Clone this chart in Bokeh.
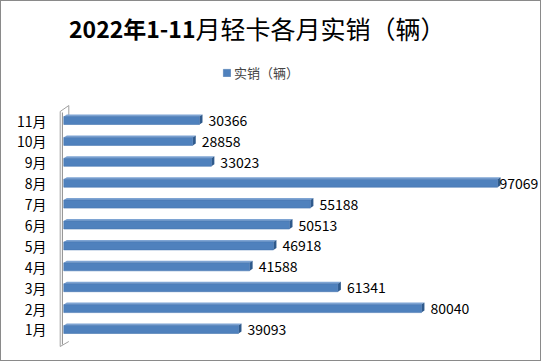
from bokeh.plotting import figure
from bokeh.models import ColumnDataSource, Label, Legend, LegendItem, FixedTicker, Range1d
from bokeh.core.properties import value
from bokeh.embed import file_html
from bokeh.resources import INLINE

# ---- data ----
months = ["1月", "2月", "3月", "4月", "5月", "6月", "7月", "8月", "9月", "10月", "11月"]
sales = [39093, 80040, 61341, 41588, 46918, 50513, 55188, 97069, 33023, 28858, 30366]
series_name = "实销（辆）"
title_bold = "2022年1-11"
title_rest = "月轻卡各月实销（辆）"

FONT = "Noto Sans CJK SC"
W, H = 541, 361
ML, MR, MT, MB = 56, 2, 0, 0
frame_w = W - ML - MR
frame_h = H - MT - MB
x0, x1 = -1410, 106685
y0, y1 = -0.579, 16.694
XPP = (x1 - x0) / frame_w      # data units per pixel (x)
YPP = (y1 - y0) / frame_h      # data units per pixel (y)


def fy(py):
    """data y of a pixel row measured from the top of the frame"""
    return y1 - py * YPP


p = figure(width=W, height=H, output_backend="svg", toolbar_location=None,
           x_range=Range1d(x0, x1), y_range=Range1d(y0, y1),
           min_border_left=ML, min_border_right=MR, min_border_top=MT, min_border_bottom=MB)
p.styles = {"border": "1px solid #8a8a8a"}
p.outline_line_color = None
p.xgrid.visible = False
p.ygrid.visible = False
p.xaxis.visible = False
p.background_fill_color = "white"
p.border_fill_color = "white"

ys = list(range(1, len(months) + 1))
yax = p.yaxis[0]
yax.ticker = FixedTicker(ticks=ys)
yax.major_label_overrides = {y: m for y, m in zip(ys, months)}
yax.axis_line_color = None
yax.major_tick_line_color = None
yax.minor_tick_line_color = None
yax.major_label_standoff = 5
yax.major_label_text_font = FONT
yax.major_label_text_font_size = "14px"
yax.major_label_text_color = "#000000"

# ---- wall ----
wx_a = -3.6 * XPP
wx_b = -1.4 * XPP
wx_c = 5.0 * XPP
p.multi_line(xs=[[wx_a, wx_a, wx_c, wx_c], [wx_a, wx_c]],
             ys=[[fy(345), fy(110), fy(104), fy(114)], [fy(345), fy(340)]],
             line_color="#a0a0a0", line_width=1)
p.segment(x0=[wx_b], y0=[fy(343)], x1=[wx_b], y1=[fy(111)],
          line_color="#8c8c8c", line_width=1)

# ---- 3D bars ----
BH = 8.0 * YPP
DX = 3.0 * XPP
DY = 2.0 * YPP
src = ColumnDataSource(dict(y=ys, right=sales, months=months))
top_xs, top_ys, cap_xs, cap_ys = [], [], [], []
for y, v in zip(ys, sales):
    t = y + BH / 2
    b = y - BH / 2
    top_xs.append([0, v, v + DX, DX])
    top_ys.append([t, t, t + DY, t + DY])
    cap_xs.append([v, v + DX, v + DX, v])
    cap_ys.append([b, b + DY, t + DY, t])
p.patches(top_xs, top_ys, fill_color="#7ea4d3", line_color=None)
p.patches(cap_xs, cap_ys, fill_color="#2f5a8c", line_color=None)
bars = p.hbar(y="y", left=0, right="right", height=BH, source=src,
              fill_color="#4f81bd", line_color="#4676b0", line_width=0.6)

# ---- value labels ----
OFF = 9.0 * XPP
LABEL_MAX = 435.7 * XPP
lab_x = [min(v + OFF, LABEL_MAX) for v in sales]
p.text(x=lab_x, y=ys, text=[str(v) for v in sales], text_font=value(FONT),
       text_font_size="14px", text_baseline="middle", text_align="left",
       text_color="#000000", y_offset=0)

# ---- title (screen units are relative to the frame's bottom-left) ----
split_x = 138
ty = frame_h - 26
p.add_layout(Label(x=split_x, y=ty, x_units="screen", y_units="screen", text=title_bold,
                   text_font=FONT, text_font_size="23px", text_font_style="bold",
                   text_align="right", text_baseline="middle", text_color="#000000"))
p.add_layout(Label(x=split_x, y=ty, x_units="screen", y_units="screen", text=title_rest,
                   text_font=FONT, text_font_size="25px",
                   text_align="left", text_baseline="middle", text_color="#000000"))

# ---- legend ----
leg = Legend(items=[LegendItem(label=series_name, renderers=[bars])],
             location=(165, frame_h - 71.5 - 9),
             padding=0, margin=0, spacing=0, glyph_width=9, glyph_height=9,
             label_standoff=3, border_line_color=None, background_fill_alpha=0,
             label_text_font=FONT, label_text_font_size="13px", label_height=9)
p.add_layout(leg)

open("out.html", "w").write(file_html(p, INLINE))
